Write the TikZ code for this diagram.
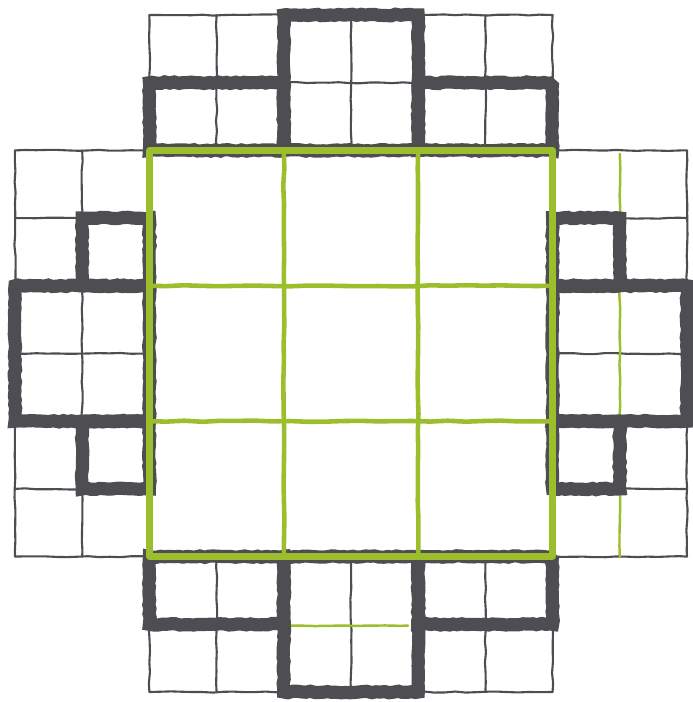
\documentclass[tikz,border=0pt]{standalone}
\usepackage{tikz}
\usetikzlibrary{decorations.pathmorphing}
\definecolor{InkGray}{RGB}{77,77,82}
\definecolor{LeafGreen}{RGB}{156,190,44}
\tikzset{
  pen/.style={InkGray,line width=1.2pt,line cap=round,decorate,
    decoration={random steps,segment length=6pt,amplitude=.35pt}},
  brush/.style={InkGray,line width=7.5pt,line join=miter,miter limit=1.6,line cap=rect,decorate,
    decoration={random steps,segment length=2.5pt,amplitude=.45pt}},
  greenpen/.style={LeafGreen,line width=1.4pt,line cap=round,decorate,
    decoration={random steps,segment length=8pt,amplitude=.3pt}},
  greenframe/.style={LeafGreen,line width=3.6pt,line cap=round,line join=round},
  greengrid/.style={LeafGreen,line width=2.6pt,line cap=round,decorate,
    decoration={random steps,segment length=10pt,amplitude=.35pt}}
}

\begin{document}
\begin{tikzpicture}[x=1.344cm,y=-1.354cm]
  \pgfmathsetseed{7}
  \useasboundingbox (-0.2232,-0.2216) rectangle (10.089,10.148);
  \foreach \i in {2,...,8}{
    \draw[pen] (\i,0) -- (\i,2);
    \draw[pen] (\i,8) -- (\i,10);
  }
  \foreach \j in {0,1,2}{
    \draw[pen] (2,\j) -- (8,\j);
  }
  \foreach \j in {8,10}{
    \draw[pen] (2,\j) -- (8,\j);
  }
  \foreach \i in {0,1,2}{
    \draw[pen] (\i,2) -- (\i,8);
  }
  \foreach \i in {8,10}{
    \draw[pen] (\i,2) -- (\i,8);
  }
  \foreach \j in {2,...,8}{
    \draw[pen] (0,\j) -- (2,\j);
    \draw[pen] (8,\j) -- (10,\j);
  }
  \draw[greenpen] (9,2.05) -- (9,8);
  \draw[greenpen] (4.05,9.02) -- (5.85,9.02);
  \foreach \a/\b/\c/\d in {4/0/6/2, 2/1/4/2, 6/1/8/2,
                           0/4/2/6, 1/3/2/4, 1/6/2/7,
                           8/4/10/6, 8/3/9/4, 8/6/9/7,
                           4/8/6/10, 2/8/4/9, 6/8/8/9}{
    \draw[brush] (\a,\b) rectangle (\c,\d);
  }
  \foreach \k in {4,6}{
    \draw[greengrid] (\k,2) -- (\k,8);
    \draw[greengrid] (2,\k) -- (8,\k);
  }
  \draw[greenframe] (2,2) rectangle (8,8);
\end{tikzpicture}
\end{document}
